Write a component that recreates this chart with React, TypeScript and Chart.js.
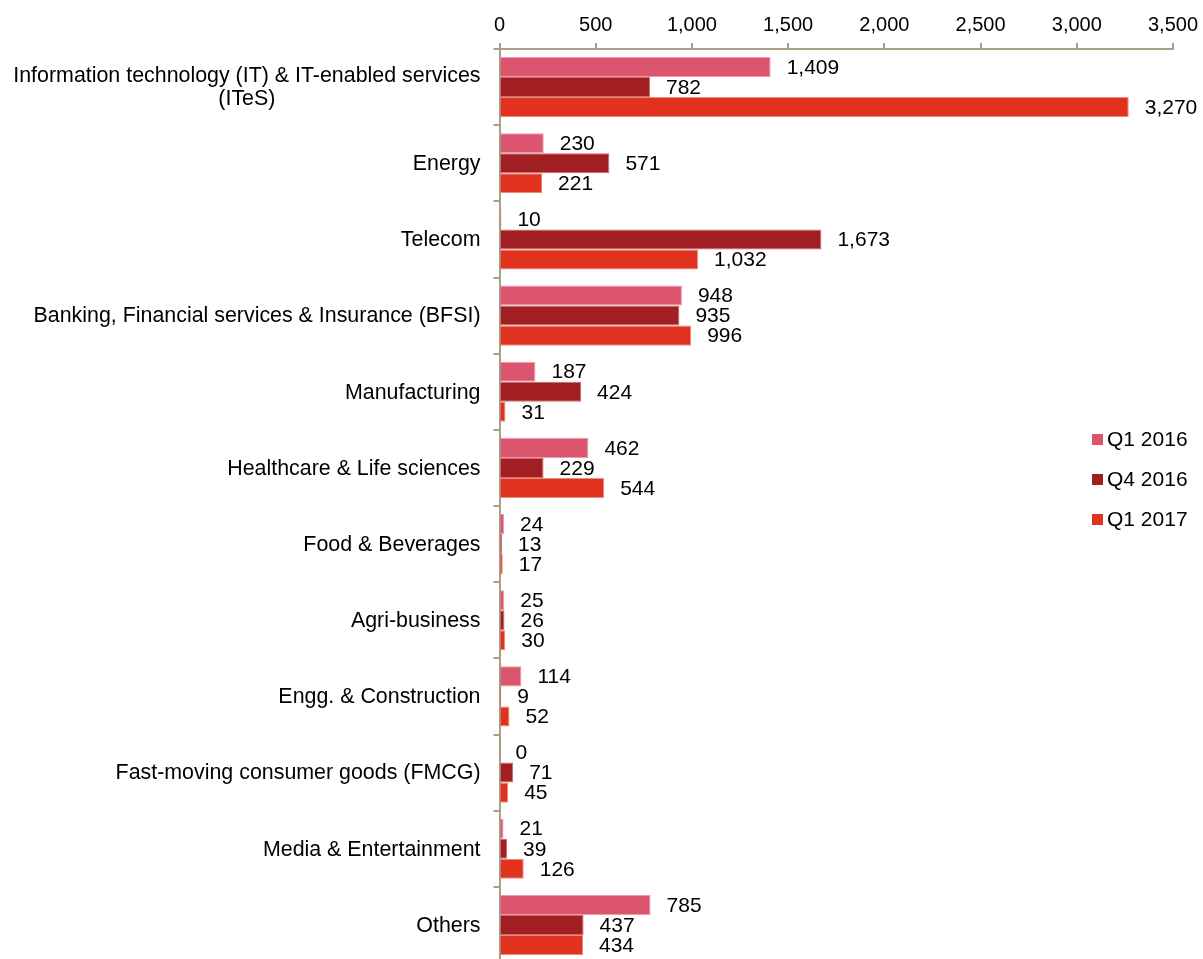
import React, { useEffect, useRef } from "react";
import { Chart, registerables } from "chart.js";

Chart.register(...registerables);

const categories: (string | string[])[] = [
  ["Information technology (IT) & IT-enabled services", "(ITeS)"],
  "Energy",
  "Telecom",
  "Banking, Financial services & Insurance (BFSI)",
  "Manufacturing",
  "Healthcare & Life sciences",
  "Food & Beverages",
  "Agri-business",
  "Engg. & Construction",
  "Fast-moving consumer goods (FMCG)",
  "Media & Entertainment",
  "Others",
];

const seriesNames = ["Q1 2016", "Q4 2016", "Q1 2017"];
const q1_2016 = [1409, 230, 10, 948, 187, 462, 24, 25, 114, 0, 21, 785];
const q4_2016 = [782, 571, 1673, 935, 424, 229, 13, 26, 9, 71, 39, 437];
const q1_2017 = [3270, 221, 1032, 996, 31, 544, 17, 30, 52, 45, 126, 434];
const seriesColors = ["#DB556E", "#A11F23", "#E0321F"];
const seriesBorders = ["#EE9AA8", "#C96A6C", "#EE8A7C"];

const FONT = "'Liberation Sans', Arial, sans-serif";
const FS = 21;
const LABEL_FS = 21.4;
const TICK_FS = 20;
const AXIS_COLOR = "#A89F86";

const fmt = (v: number) => v.toLocaleString("en-US");

const valueLabels = {
  id: "valueLabels",
  afterDatasetsDraw(chart: any) {
    const ctx = chart.ctx;
    ctx.save();
    ctx.font = `${FS}px ${FONT}`;
    ctx.fillStyle = "#000";
    ctx.textAlign = "left";
    ctx.textBaseline = "middle";
    chart.data.datasets.forEach((ds: any, di: number) => {
      const meta = chart.getDatasetMeta(di);
      meta.data.forEach((bar: any, i: number) => {
        ctx.fillText(fmt(ds.data[i]), bar.x + 16, bar.y + 1);
      });
    });
    ctx.restore();
  },
};

const categoryLabels = {
  id: "categoryLabels",
  afterDraw(chart: any) {
    const ctx = chart.ctx;
    const yScale = chart.scales.y;
    ctx.save();
    ctx.font = `${LABEL_FS}px ${FONT}`;
    ctx.fillStyle = "#000";
    ctx.textBaseline = "middle";
    ctx.textAlign = "center";
    const right = 480.5;
    const lh = 23;
    (chart.data.labels as any[]).forEach((lab: any, i: number) => {
      const lines: string[] = Array.isArray(lab) ? lab : [lab];
      const widths = lines.map((l) => ctx.measureText(l).width);
      const maxW = Math.max(...widths);
      const cx = right - maxW / 2;
      const yc = yScale.getPixelForValue(i) + 1;
      const y0 = yc - ((lines.length - 1) * lh) / 2;
      lines.forEach((l, k) => ctx.fillText(l, cx, y0 + k * lh));
    });
    ctx.restore();
  },
};

const customLegend = {
  id: "customLegend",
  afterDraw(chart: any) {
    const ctx = chart.ctx;
    ctx.save();
    ctx.font = `${FS}px ${FONT}`;
    ctx.textAlign = "left";
    ctx.textBaseline = "middle";
    chart.data.datasets.forEach((ds: any, di: number) => {
      const y = 439 + di * 40;
      ctx.fillStyle = ds.backgroundColor;
      ctx.fillRect(1092, y - 5, 11, 11);
      ctx.fillStyle = "#000";
      ctx.fillText(ds.label, 1107, y + 1);
    });
    ctx.restore();
  },
};

export default function App() {
  const ref = useRef<HTMLCanvasElement>(null);
  useEffect(() => {
    document.body.style.margin = "0";
    const datasets = [q1_2016, q4_2016, q1_2017].map((d, i) => ({
      label: seriesNames[i],
      data: d,
      backgroundColor: seriesColors[i],
      borderColor: seriesBorders[i],
      borderWidth: 1,
      categoryPercentage: 0.79,
      barPercentage: 1.0,
    }));
    const chart = new Chart(ref.current!, {
      type: "bar",
      data: { labels: categories, datasets },
      options: {
        indexAxis: "y",
        responsive: false,
        animation: false,
        devicePixelRatio: 1,
        layout: { padding: { left: 0, right: 30, top: 0, bottom: 0 } },
        plugins: { legend: { display: false }, tooltip: { enabled: false } },
        scales: {
          x: {
            position: "top",
            min: 0,
            max: 3500,
            ticks: {
              stepSize: 500,
              color: "#000",
              padding: 6,
              font: { family: FONT, size: TICK_FS },
              callback: (v: any) => fmt(Number(v)),
            },
            grid: {
              drawOnChartArea: false,
              drawTicks: true,
              tickLength: 6,
              color: AXIS_COLOR,
              lineWidth: 2,
            },
            border: { color: AXIS_COLOR, width: 2 },
            afterFit: (s: any) => {
              s.height = 49;
              s.paddingLeft = 0;
              s.paddingRight = 0;
            },
          },
          y: {
            offset: true,
            ticks: {
              display: false,
              autoSkip: false,
            },
            grid: {
              offset: true,
              drawOnChartArea: false,
              drawTicks: true,
              tickLength: 6,
              color: AXIS_COLOR,
              lineWidth: 2,
            },
            border: { color: AXIS_COLOR, width: 2 },
            afterFit: (s: any) => {
              s.width = 499.5;
              s.paddingTop = 0;
              s.paddingBottom = 0;
            },
          },
        },
      },
      plugins: [valueLabels, categoryLabels, customLegend],
    } as any);
    return () => chart.destroy();
  }, []);
  return (
    <div style={{ width: 1203, height: 959, overflow: "hidden" }}>
      <canvas ref={ref} width={1203} height={963} style={{ display: "block" }} />
    </div>
  );
}
